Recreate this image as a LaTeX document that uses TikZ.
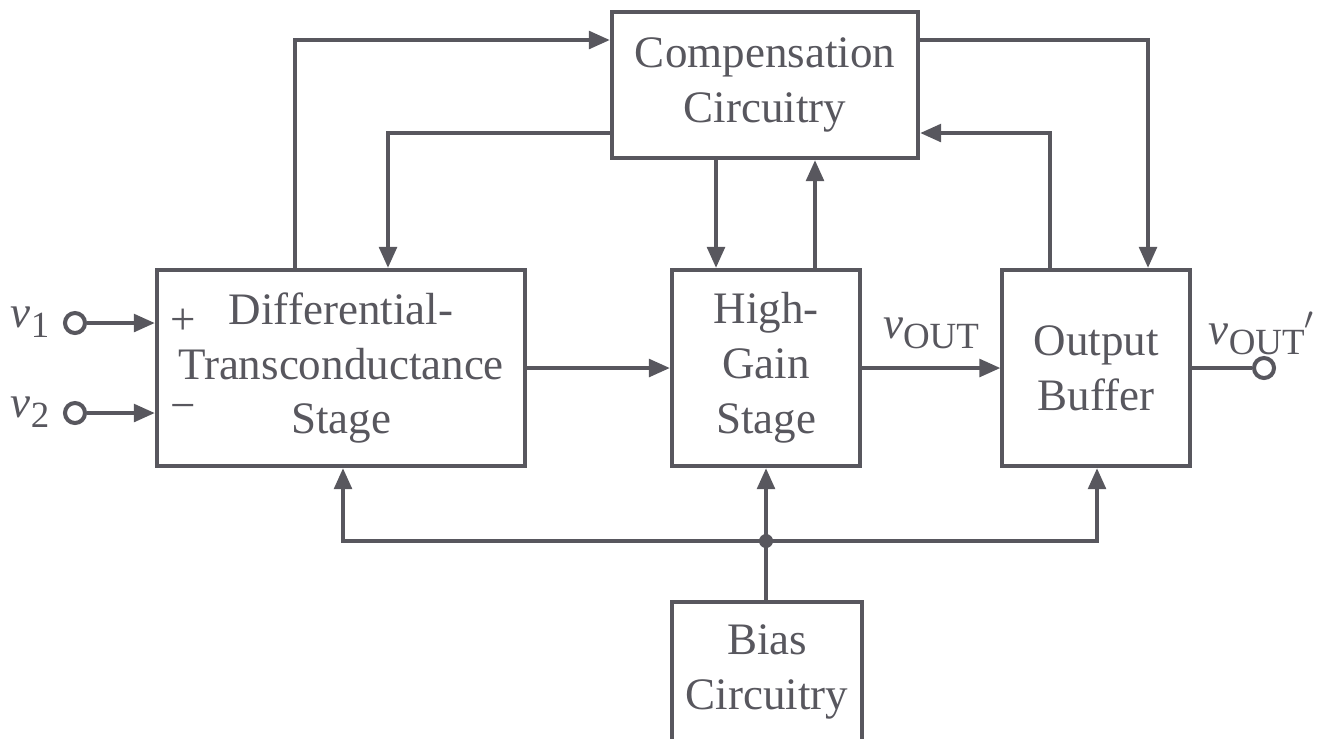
\documentclass[tikz,border=0pt]{standalone}
\usepackage{fontspec}
\setmainfont{Liberation Serif}
\usetikzlibrary{arrows.meta}
\definecolor{ink}{HTML}{58575E}
\newcommand\lowtext[1]{\raisebox{-2.8pt}{\fontsize{10.5}{10}\selectfont #1}}

\begin{document}
\begin{tikzpicture}[x=0.01cm,y=-0.01cm,line width=1.15pt,
  every node/.style={text=ink},
  blk/.style={draw=ink,fill=white,align=center,inner sep=0pt,
    font=\fontsize{12.8}{15.6}\selectfont},
  arr/.style={draw=ink,-{Triangle[length=6pt,width=5pt]}},
  wire/.style={draw=ink},
  term/.style={circle,draw=ink,fill=white,inner sep=0pt,minimum size=0.2cm},
  lbl/.style={font=\fontsize{12.8}{15}\selectfont}]
\useasboundingbox (0,0) rectangle (1325,738);
% blocks
\node[blk,minimum width=3.06cm,minimum height=1.46cm] (comp) at (765,85) {Compensation\\Circuitry};
\node[blk,minimum width=3.68cm,minimum height=1.96cm] (diff) at (341,368) {Differential-\\Transconductance\\Stage};
\node[blk,minimum width=1.88cm,minimum height=1.96cm] (gain) at (766,368) {High-\\Gain\\Stage};
\node[blk,minimum width=1.87cm,minimum height=1.96cm] (buf) at (1096,368) {Output\\Buffer};
\node[blk,minimum width=1.89cm,minimum height=1.40cm] (bias) at (767,672) {Bias\\Circuitry};
% terminals
\node[term] (in1) at (75,323) {};
\node[term] (in2) at (75,413) {};
\node[term] (out) at (1264,368) {};
\node[lbl] (v1) at (30,322) {\textit{v}\lowtext{1}};
\node[lbl] (v2) at (30,412) {\textit{v}\lowtext{2}};
\node[lbl] (plus) at (183,322) {+};
\node[lbl] (minus) at (183,412) {−};
\node[lbl] (vout) at (931,333) {\textit{v}\lowtext{OUT}};
\node[lbl] (voutp) at (1262,333) {\textit{v}\lowtext{OUT}$'$};
% route corners
\coordinate (a) at (295,40);
\coordinate (b) at (388,133);
\coordinate (c) at (716,0);
\coordinate (d) at (815,0);
\coordinate (e) at (1148,40);
\coordinate (f) at (1050,133);
\coordinate (j) at (766,541);
\coordinate (jl) at (343,541);
\coordinate (jr) at (1097,541);
% compensation loops
\draw[arr] (diff.north -| a) |- (comp.west |- a);
\draw[arr] (comp.west |- b) -| (diff.north -| b);
\draw[arr] (comp.south -| c) -- (gain.north -| c);
\draw[arr] (gain.north -| d) -- (comp.south -| d);
\draw[arr] (comp.east |- e) -| (buf.north -| e);
\draw[arr] (buf.north -| f) |- (comp.east |- f);
% signal path
\draw[arr] (in1) -- (diff.west |- in1);
\draw[arr] (in2) -- (diff.west |- in2);
\draw[arr] (diff) -- (gain);
\draw[arr] (gain) -- (buf);
\draw[wire] (buf) -- (out);
% bias
\draw[wire] (bias.north -| j) -- (j);
\draw[arr] (j) -- (gain.south -| j);
\draw[arr] (j) -| (diff.south -| jl);
\draw[arr] (j) -| (buf.south -| jr);
\node[circle,fill=ink,inner sep=0pt,minimum size=0.14cm] (dot) at (j) {};
\end{tikzpicture}
\end{document}
